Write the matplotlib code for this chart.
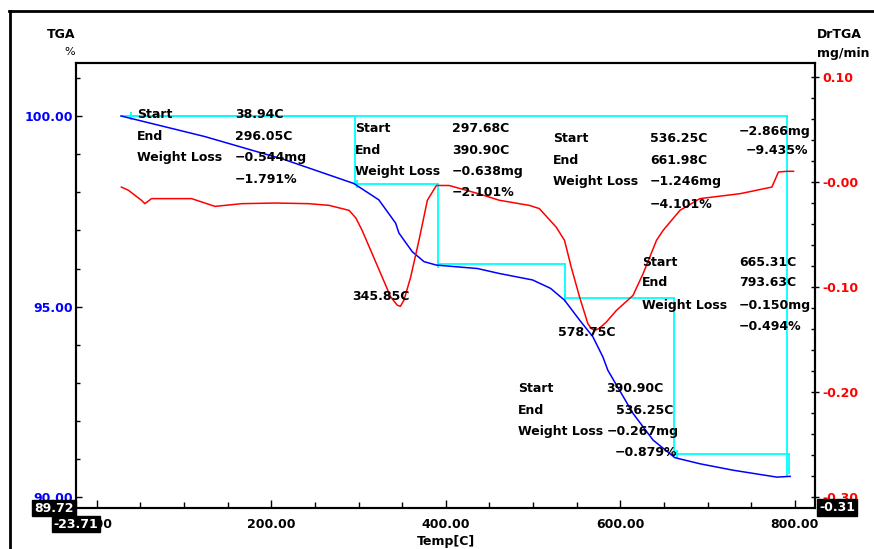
import matplotlib
matplotlib.use("Agg")
import matplotlib.pyplot as plt
from matplotlib.lines import Line2D

# ---------------- data ----------------
tga_temp = [28.0, 124.0, 216.0, 294.6, 323.3, 342.5, 346.3, 361.6, 375.1, 389.2,
            436.3, 461.3, 499.5, 520.0, 536.0, 553.2, 568.5, 580.0, 585.7, 614.5,
            637.5, 662.4, 691.1, 729.4, 779.3, 794.6]
tga_pct = [100.0, 99.46, 98.85, 98.23, 97.80, 97.19, 96.93, 96.44, 96.18, 96.09,
           96.00, 95.87, 95.70, 95.48, 95.17, 94.65, 94.21, 93.68, 93.33, 92.20,
           91.50, 91.04, 90.88, 90.71, 90.53, 90.55]

dtg_temp = [28.3, 36.4, 51.3, 55.2, 62.8, 89.5, 108.7, 135.6, 166.2, 204.6,
            242.9, 266.2, 289.2, 297.0, 304.1, 315.6, 327.1, 336.8, 344.4, 348.0,
            352.1, 359.8, 369.3, 378.9, 389.2, 403.8, 438.3, 461.0, 496.0, 507.2,
            526.4, 536.0, 543.7, 553.2, 562.8, 566.5, 570.5, 576.0, 583.9, 595.4,
            614.5, 626.0, 641.4, 649.0, 668.2, 691.1, 737.1, 773.6, 781.1, 790.8,
            798.4]
dtg_val = [-0.0045, -0.0076, -0.0171, -0.0203, -0.0155, -0.0155, -0.0155, -0.0229, -0.0203, -0.0197,
           -0.0203, -0.0219, -0.0267, -0.0340, -0.0457, -0.0679, -0.0902, -0.109, -0.117, -0.118,
           -0.112, -0.090, -0.055, -0.017, -0.003, -0.003, -0.011, -0.017, -0.022, -0.025,
           -0.0426, -0.0552, -0.0807, -0.109, -0.1346, -0.139, -0.141, -0.139, -0.133, -0.122,
           -0.1076, -0.087, -0.0552, -0.0457, -0.0267, -0.0155, -0.0108, -0.0045, 0.0098, 0.0105,
           0.0105]

step_start = [38.94, 297.68, 390.90, 536.25, 665.31]
step_end = [296.05, 390.90, 536.25, 661.98, 793.63]
step_loss_mg = [0.544, 0.638, 0.267, 1.246, 0.150]
step_loss_pct = [1.791, 2.101, 0.879, 4.101, 0.494]
total_loss_mg = 2.866
total_loss_pct = 9.435
total_end = 791.0
peak_temps = [345.85, 578.75]

x_ticks = [0, 200, 400, 600, 800]
x_tick_labels = ["0.00", "200.00", "400.00", "600.00", "800.00"]
left_ticks = [90, 95, 100]
left_tick_labels = ["90.00", "95.00", "100.00"]
right_ticks = [0.10, 0.0, -0.10, -0.20, -0.30]
right_tick_labels = ["0.10", "-0.00", "-0.10", "-0.20", "-0.30"]

x_min, y_min, r_min = -23.71, 89.72, -0.31

# ---------------- figure ----------------
W, H = 874, 549
fig = plt.figure(figsize=(W / 100, H / 100), dpi=100)
fig.patch.set_facecolor("white")
FONT = "DejaVu Sans"

L, R, T, B = 76, 815, 63, 508
ax = fig.add_axes([L / W, 1 - B / H, (R - L) / W, (B - T) / H])
ax2 = ax.twinx()

ax.set_xlim(x_min, 823)
ax.set_ylim(y_min, 101.39)
ax2.set_ylim(r_min, 0.1136)

BLUE = "#0000FF"
RED = "#FF0000"
CYAN = "#00FFFF"

# cyan analysis step lines
ax.plot([tga_temp[0], total_end], [100.0, 100.0], color=CYAN, lw=1.3, zorder=3)
ax.plot([total_end, total_end], [100.0, 100.0 - total_loss_pct], color=CYAN, lw=1.3, zorder=3)
level = 100.0
for i, (s, e, lp) in enumerate(zip(step_start, step_end, step_loss_pct)):
    xs = step_end[i - 1] if i > 0 else s
    ax.plot([xs, e], [level, level], color=CYAN, lw=1.3, zorder=3)
    ax.plot([e, e], [level, level - lp], color=CYAN, lw=1.3, zorder=3)
    ax.plot([s], [level], marker="|", color=CYAN, ms=6, mew=1.3, zorder=3)
    level -= lp

# TGA curve
ax.plot(tga_temp, tga_pct, color=BLUE, lw=1.1, zorder=4)
# DTG curve
ax2.plot(dtg_temp, dtg_val, color=RED, lw=1.1, zorder=4)

# ticks
ax.set_xticks(x_ticks)
ax.set_xticklabels(x_tick_labels, fontsize=9, fontweight="bold", family=FONT)
ax.set_xticks(range(0, 801, 50), minor=True)
ax.set_yticks(left_ticks)
ax.set_yticklabels(left_tick_labels, fontsize=9, fontweight="bold", family=FONT, color=BLUE)
ax.set_yticks(range(90, 102), minor=True)
ax2.set_yticks(right_ticks)
ax2.set_yticklabels(right_tick_labels, fontsize=9, fontweight="bold", family=FONT, color=RED)
ax2.set_yticks([round(-0.30 + 0.02 * k, 2) for k in range(21)], minor=True)

ax.tick_params(axis="x", which="major", direction="in", length=6, width=1, pad=7)
ax.tick_params(axis="x", which="minor", direction="in", length=4, width=1)
ax.tick_params(axis="y", which="major", direction="in", length=4, width=1, pad=2)
ax.tick_params(axis="y", which="minor", direction="in", length=3, width=1)
ax2.tick_params(axis="y", which="major", direction="inout", length=6, width=1, pad=2)
ax2.tick_params(axis="y", which="minor", direction="in", length=3, width=1)

for a in (ax, ax2):
    for sp in a.spines.values():
        sp.set_linewidth(1.5)
        sp.set_color("black")


def ptext(x, y, s, ha="left", va="center", **kw):
    kw.setdefault("fontsize", 9)
    kw.setdefault("fontweight", "bold")
    kw.setdefault("family", FONT)
    kw.setdefault("color", "black")
    return fig.text(x / W, 1 - y / H, s, ha=ha, va=va, **kw)


MINUS = "\u2212"


def fmt_c(v):
    return f"{v:.2f}C"


def fmt_mg(v):
    return f"{MINUS}{v:.3f}mg"


def fmt_pct(v):
    return f"{MINUS}{v:.3f}%"


# annotation blocks: (label x, value x list, rows y)
blocks = [
    (137, [235, 235, 235, 235], [115, 137, 158, 180]),
    (355, [452, 452, 452, 452], [128, 150, 171, 193]),
    (518, [606, 616, 607, 615], [389, 411, 432, 452]),
    (553, [650, 650, 650, 650], [138, 160, 182, 205]),
    (642, [739, 739, 739, 739], [262, 282, 305, 326]),
]
for i, (lx, vx, ys) in enumerate(blocks):
    ptext(lx, ys[0], "Start")
    ptext(lx, ys[1], "End")
    ptext(lx, ys[2], "Weight Loss")
    ptext(vx[0], ys[0], fmt_c(step_start[i]))
    ptext(vx[1], ys[1], fmt_c(step_end[i]))
    ptext(vx[2], ys[2], fmt_mg(step_loss_mg[i]))
    ptext(vx[3], ys[3], fmt_pct(step_loss_pct[i]))

ptext(739, 132, fmt_mg(total_loss_mg))
ptext(746, 150, fmt_pct(total_loss_pct))
ptext(352, 296, fmt_c(peak_temps[0]))
ptext(558, 333, fmt_c(peak_temps[1]))

# axis titles
ptext(61, 35, "TGA", ha="center")
ptext(70, 52, "%", ha="center", fontweight="normal", fontsize=8)
ptext(817, 35, "DrTGA")
ptext(817, 53, "mg/min")
ptext(446, 541, "Temp[C]", ha="center")

# black value boxes
box = dict(boxstyle="square,pad=0.15", facecolor="black", edgecolor="black")
ptext(54, 508, f"{y_min:.2f}", ha="center", color="white", bbox=box, zorder=10)
ptext(76, 524, f"{x_min:.2f}", ha="center", color="white", bbox=box, zorder=10)
ptext(837, 507.5, f"{r_min:.2f}", ha="center", color="white", bbox=box, zorder=10)

# window border
fig.add_artist(Line2D([9.5 / W, 9.5 / W], [0, 1 - 11 / H], transform=fig.transFigure,
                      color="black", lw=2))
fig.add_artist(Line2D([9 / W, 1], [1 - 11 / H, 1 - 11 / H], transform=fig.transFigure,
                      color="black", lw=2))

fig.savefig("out.png", dpi=100, facecolor="white")
